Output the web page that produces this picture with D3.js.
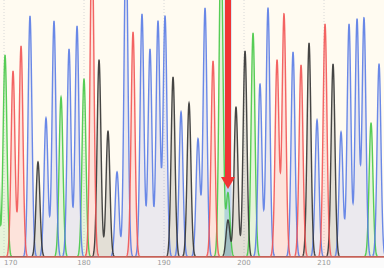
<!DOCTYPE html>
<html>
<head>
<meta charset="UTF-8">
<style>
  body { margin: 0; background: #fff; }
  svg { display: block; }
  .tick-label { font: 7px "DejaVu Sans", sans-serif; fill: #9a9a9a; }
</style>
</head>
<body>
<svg width="384" height="268"></svg>
<script src="https://d3js.org/d3.v7.min.js"></script>
<script>
  // base position labels on the axis
  const tickLabels = [170, 180, 190, 200, 210];

  // peak positions (base index) and signal heights per channel
  const posA = [169.0, 170.13, 177.13, 180.0, 197.13, 198.0, 201.13, 215.88];
  const sigA = [1300, 808, 640, 712, 1300, 256, 896, 536];

  const posC = [173.25, 175.25, 176.25, 178.13, 179.13, 184.13, 185.25, 187.25, 188.25,
                189.25, 190.13, 192.13, 194.25, 195.13, 202.0, 203.0, 206.13, 209.13,
                212.13, 213.13, 214.13, 215.0, 216.88];
  const sigC = [964, 556, 944, 832, 924, 340, 1300, 972, 832,
                944, 964, 580, 472, 996, 692, 996, 820, 548,
                500, 932, 952, 956, 772];

  const posG = [174.25, 181.88, 183.0, 191.13, 193.13, 198.0, 199.0, 200.13, 208.13, 211.13];
  const sigG = [380, 788, 504, 720, 616, 148, 600, 824, 856, 772];

  const posT = [171.13, 172.13, 181.0, 186.13, 196.13, 204.13, 205.0, 207.13, 210.13];
  const sigT = [744, 844, 1300, 900, 784, 788, 972, 768, 932];

  // selected base (arrow + highlighted column)
  const selectedBase = 198.0;

  const W = 384, H = 268, baseY = 257;
  const svg = d3.select("svg");

  const x = d3.scaleLinear().domain([170, 210]).range([4, 324]);
  const y = d3.scaleLinear().domain([0, 1028]).range([baseY, 0]);
  const sigma = 0.24;

  // background
  svg.append("rect").attr("width", W).attr("height", baseY).attr("fill", "#fffbf1");
  svg.append("rect").attr("y", baseY).attr("width", W).attr("height", H - baseY).attr("fill", "#fbfbfb");

  svg.append("clipPath").attr("id", "plot")
    .append("rect").attr("width", W).attr("height", baseY);
  const plot = svg.append("g").attr("clip-path", "url(#plot)");

  // dotted grid at labelled positions
  plot.selectAll("line.grid").data(tickLabels).enter().append("line")
    .attr("class", "grid")
    .attr("x1", d => x(d)).attr("x2", d => x(d))
    .attr("y1", 0).attr("y2", baseY)
    .attr("stroke", "#d8d8d8").attr("stroke-width", 1)
    .attr("stroke-dasharray", "1,2");

  // highlighted column
  plot.append("rect")
    .attr("x", x(selectedBase - 0.45)).attr("width", x(selectedBase + 0.45) - x(selectedBase - 0.45))
    .attr("y", 0).attr("height", baseY)
    .attr("fill", "#9dc0ee").attr("opacity", 0.6);

  const b0 = x.invert(-2), b1 = x.invert(W + 2);
  const samples = d3.range(b0, b1, 0.02);

  function trace(pos, sig) {
    return samples.map(b => {
      let v = 0;
      pos.forEach((p, i) => {
        const d = (b - p) / sigma;
        v += sig[i] * Math.exp(-0.5 * d * d);
      });
      return [b, v];
    });
  }

  const channels = [
    { name: "A", pos: posA, sig: sigA, line: "#46c846", fill: "rgba(70,200,70,0.13)" },
    { name: "C", pos: posC, sig: sigC, line: "#5a7ce6", fill: "rgba(90,110,220,0.12)" },
    { name: "G", pos: posG, sig: sigG, line: "#333333", fill: "rgba(40,40,40,0.13)" },
    { name: "T", pos: posT, sig: sigT, line: "#f25454", fill: "rgba(242,84,84,0.14)" }
  ];

  const area = d3.area().x(d => x(d[0])).y0(baseY).y1(d => y(d[1]));
  const line = d3.line().x(d => x(d[0])).y(d => y(d[1]));

  channels.forEach(c => { c.data = trace(c.pos, c.sig); });

  plot.selectAll("path.fill").data(channels).enter().append("path")
    .attr("class", "fill")
    .attr("d", d => area(d.data))
    .attr("fill", d => d.fill);

  plot.selectAll("path.trace").data(channels).enter().append("path")
    .attr("class", "trace")
    .attr("d", d => line(d.data))
    .attr("fill", "none")
    .attr("stroke", d => d.line)
    .attr("stroke-width", 1.4)
    .attr("stroke-opacity", 0.9);

  // arrow pointing at the selected base
  const ax = x(selectedBase);
  plot.append("rect")
    .attr("x", ax - 3).attr("y", -2).attr("width", 6).attr("height", 180)
    .attr("fill", "#f03434");
  plot.append("path")
    .attr("d", `M${ax - 7},177 L${ax + 7},177 L${ax},189 Z`)
    .attr("fill", "#f03434");

  // baseline and labels
  svg.append("line")
    .attr("x1", 0).attr("x2", W).attr("y1", baseY).attr("y2", baseY)
    .attr("stroke", "#c8645a").attr("stroke-width", 1.5);

  svg.selectAll("text.tick-label").data(tickLabels).enter().append("text")
    .attr("class", "tick-label")
    .attr("x", d => Math.max(x(d), 1))
    .attr("y", 265)
    .attr("text-anchor", d => x(d) < 12 ? "start" : "middle")
    .text(d => d);
</script>
</body>
</html>
